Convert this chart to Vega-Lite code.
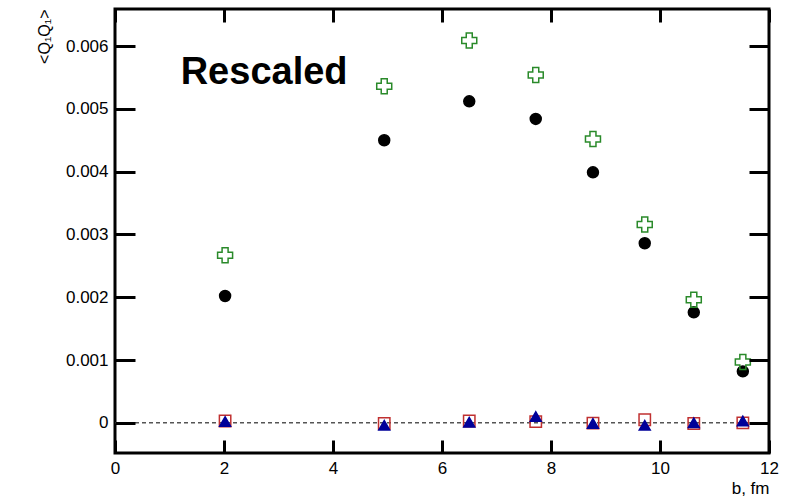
{
  "$schema": "https://vega.github.io/schema/vega-lite/v6.json",
  "width": 654,
  "height": 444,
  "autosize": {"type": "none"},
  "padding": {"left": 115, "top": 9, "right": 31, "bottom": 44},
  "background": "white",
  "config": {
    "view": {"stroke": "black", "strokeWidth": 3},
    "axis": {
      "labelFont": "Liberation Sans",
      "labelFontSize": 17,
      "labelColor": "black",
      "labelOverlap": false,
      "labelFlush": false,
      "titleFont": "Liberation Sans",
      "titleFontSize": 17,
      "titleFontWeight": "normal",
      "titleColor": "black",
      "tickColor": "black",
      "tickWidth": 3,
      "domain": false,
      "grid": false,
      "zindex": 1
    }
  },
  "resolve": {
    "scale": {"x": "shared", "y": "shared"},
    "axis": {"x": "independent", "y": "independent"}
  },
  "layer": [
    {
      "data": {"values": [{"z": 0}]},
      "mark": {"type": "rule", "color": "#555555", "strokeWidth": 1.5, "strokeDash": [4, 3]},
      "encoding": {
        "y": {
          "field": "z", "type": "quantitative",
          "scale": {"domain": [-0.00048, 0.00659], "nice": false, "zero": false},
          "axis": {
            "orient": "left", "ticks": true, "tickSize": -20, "tickColor": "black", "zindex": 1,
            "values": [0, 0.001, 0.002, 0.003, 0.004, 0.005, 0.006],
            "labelExpr": "datum.value == 0 ? '0' : format(datum.value, '.3f')",
            "labelPadding": 27,
            "title": "<Q₁Q₁>", "titleAnchor": "end", "titlePadding": 13, "titleFontSize": 16
          }
        }
      }
    },
    {
      "data": {"values": [{"z": 0}]},
      "mark": {"type": "point", "opacity": 0},
      "encoding": {
        "x": {
          "field": "z", "type": "quantitative",
          "scale": {"domain": [0, 12], "nice": false, "zero": false},
          "axis": {
            "orient": "bottom", "ticks": true, "tickSize": -13, "tickColor": "black", "zindex": 1,
            "values": [0, 2, 4, 6, 8, 10, 12],
            "labelPadding": 20,
            "title": "b, fm", "titleAnchor": "end", "titlePadding": 4
          }
        }
      }
    },
    {
      "data": {"values": [
        {"b": 2.02, "v": 0.00202, "s": "circle"},
        {"b": 4.94, "v": 0.00450, "s": "circle"},
        {"b": 6.50, "v": 0.00512, "s": "circle"},
        {"b": 7.72, "v": 0.00484, "s": "circle"},
        {"b": 8.77, "v": 0.00399, "s": "circle"},
        {"b": 9.72, "v": 0.00286, "s": "circle"},
        {"b": 10.62, "v": 0.00176, "s": "circle"},
        {"b": 11.52, "v": 0.00082, "s": "circle"},
        {"b": 2.02, "v": 0.00267, "s": "cross"},
        {"b": 4.94, "v": 0.00536, "s": "cross"},
        {"b": 6.50, "v": 0.00609, "s": "cross"},
        {"b": 7.72, "v": 0.00554, "s": "cross"},
        {"b": 8.77, "v": 0.00452, "s": "cross"},
        {"b": 9.72, "v": 0.00316, "s": "cross"},
        {"b": 10.62, "v": 0.00196, "s": "cross"},
        {"b": 11.52, "v": 0.00097, "s": "cross"},
        {"b": 2.02, "v": 0.00003, "s": "square"},
        {"b": 4.94, "v": -0.00001, "s": "square"},
        {"b": 6.50, "v": 0.00003, "s": "square"},
        {"b": 7.72, "v": 0.00002, "s": "square"},
        {"b": 8.77, "v": -0.000005, "s": "square"},
        {"b": 9.72, "v": 0.00005, "s": "square"},
        {"b": 10.62, "v": -0.00001, "s": "square"},
        {"b": 11.52, "v": 0.0, "s": "square"},
        {"b": 2.02, "v": 0.00002, "s": "triangle"},
        {"b": 4.94, "v": -0.00004, "s": "triangle"},
        {"b": 6.50, "v": 0.00001, "s": "triangle"},
        {"b": 7.72, "v": 0.0001, "s": "triangle"},
        {"b": 8.77, "v": -0.00001, "s": "triangle"},
        {"b": 9.72, "v": -0.00004, "s": "triangle"},
        {"b": 10.62, "v": 0.0, "s": "triangle"},
        {"b": 11.52, "v": 0.00003, "s": "triangle"}
      ]},
      "mark": {"type": "point", "filled": true, "opacity": 1, "strokeWidth": 1.5},
      "encoding": {
        "x": {"field": "b", "type": "quantitative",
          "axis": {"orient": "top", "ticks": true, "tickSize": -13, "tickColor": "black", "zindex": 1,
                   "labelExpr": "''", "title": null,
                   "values": [0, 2, 4, 6, 8, 10, 12]}},
        "y": {"field": "v", "type": "quantitative",
          "axis": {"orient": "right", "ticks": true, "tickSize": -20, "tickColor": "black", "zindex": 1,
                   "labelExpr": "''", "title": null,
                   "values": [0, 0.001, 0.002, 0.003, 0.004, 0.005, 0.006]}},
        "shape": {"field": "s", "type": "nominal", "legend": null,
          "scale": {"domain": ["circle", "cross", "square", "triangle"], "range": ["circle", "cross", "square", "triangle-up"]}},
        "fill": {"field": "s", "type": "nominal", "legend": null,
          "scale": {"domain": ["circle", "cross", "square", "triangle"], "range": ["black", "transparent", "transparent", "#000099"]}},
        "stroke": {"field": "s", "type": "nominal", "legend": null,
          "scale": {"domain": ["circle", "cross", "square", "triangle"], "range": ["black", "#2a8a2a", "#c03030", "#000099"]}},
        "size": {"field": "s", "type": "nominal", "legend": null,
          "scale": {"type": "ordinal", "domain": ["circle", "cross", "square", "triangle"], "range": [120, 225, 130, 120]}}
      }
    },
    {
      "data": {"values": [{"b": 1.205, "v": 0.0054, "t": "Rescaled"}]},
      "mark": {"type": "text", "font": "Liberation Sans", "fontWeight": "bold", "fontSize": 38, "align": "left", "baseline": "alphabetic", "color": "black"},
      "encoding": {
        "x": {"field": "b", "type": "quantitative", "axis": null},
        "y": {"field": "v", "type": "quantitative", "axis": null},
        "text": {"field": "t"}
      }
    }
  ]
}
